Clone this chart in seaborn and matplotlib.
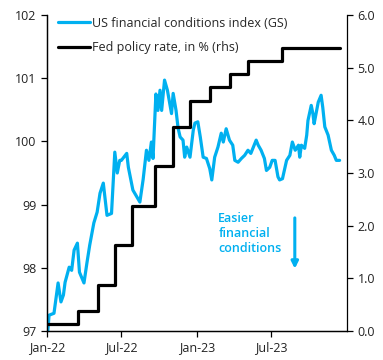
import numpy as np
import pandas as pd
import matplotlib
matplotlib.use("Agg")
import matplotlib.pyplot as plt
import seaborn as sns

# US financial conditions index (GS)
fci_dates = [
    "2022-01-03", "2022-01-06", "2022-01-18", "2022-01-28", "2022-02-04", "2022-02-10",
    "2022-02-14", "2022-02-24", "2022-03-02", "2022-03-08", "2022-03-16", "2022-03-21",
    "2022-04-01", "2022-04-08", "2022-04-15", "2022-04-25", "2022-05-03", "2022-05-10",
    "2022-05-18", "2022-05-27", "2022-06-07", "2022-06-15", "2022-06-21", "2022-06-27",
    "2022-07-01", "2022-07-14", "2022-07-18", "2022-07-29", "2022-08-15", "2022-08-23",
    "2022-08-31", "2022-09-06", "2022-09-12", "2022-09-16", "2022-09-23", "2022-09-28",
    "2022-10-03", "2022-10-07", "2022-10-14", "2022-10-21", "2022-10-31", "2022-11-04",
    "2022-11-11", "2022-11-16", "2022-11-21", "2022-11-28", "2022-12-02", "2022-12-07",
    "2022-12-15", "2022-12-23", "2022-12-27", "2023-01-03", "2023-01-09", "2023-01-16",
    "2023-01-24", "2023-02-01", "2023-02-06", "2023-02-13", "2023-02-21", "2023-03-01",
    "2023-03-06", "2023-03-13", "2023-03-21", "2023-03-29", "2023-04-03", "2023-04-11",
    "2023-04-19", "2023-04-27", "2023-05-05", "2023-05-12", "2023-05-25", "2023-05-30",
    "2023-06-06", "2023-06-14", "2023-06-19", "2023-06-27", "2023-07-03", "2023-07-10",
    "2023-07-17", "2023-07-21", "2023-07-28", "2023-08-07", "2023-08-15", "2023-08-21",
    "2023-08-28", "2023-09-05", "2023-09-08", "2023-09-12", "2023-09-20", "2023-09-25",
    "2023-09-28", "2023-10-06", "2023-10-10", "2023-10-13", "2023-10-23", "2023-10-30",
    "2023-11-03", "2023-11-08", "2023-11-16", "2023-11-24", "2023-12-01", "2023-12-06",
    "2023-12-14",
]
fci_values = [
    97.00, 97.25, 97.28, 97.76, 97.46, 97.57,
    97.77, 98.01, 97.96, 98.28, 98.39, 97.93,
    97.76, 98.07, 98.36, 98.71, 98.88, 99.18,
    99.34, 98.83, 98.86, 99.83, 99.50, 99.70,
    99.70, 99.81, 99.59, 99.23, 99.04, 99.40,
    99.86, 99.70, 99.99, 99.73, 100.75, 100.49,
    100.81, 100.49, 100.97, 100.81, 100.44, 100.76,
    100.49, 100.21, 100.07, 100.02, 99.75, 99.91,
    99.75, 100.18, 100.29, 100.31, 100.07, 99.75,
    99.73, 99.57, 99.39, 99.75, 99.91, 100.13,
    99.99, 100.20, 100.02, 99.94, 99.70, 99.67,
    99.73, 99.78, 99.86, 99.81, 100.02, 99.94,
    99.86, 99.73, 99.54, 99.59, 99.70, 99.70,
    99.44, 99.39, 99.41, 99.70, 99.78, 99.99,
    99.86, 99.94, 99.75, 99.94, 99.89, 100.10,
    100.33, 100.57, 100.44, 100.28, 100.62, 100.73,
    100.54, 100.23, 100.10, 99.86, 99.78, 99.70,
    99.70,
]

# Fed policy rate (midpoint of target range), rhs
fed_dates = [
    "2022-01-03", "2022-03-17", "2022-05-05", "2022-06-16", "2022-07-28", "2022-09-22",
    "2022-11-03", "2022-12-15", "2023-02-02", "2023-03-23", "2023-05-04", "2023-07-27",
    "2023-12-14",
]
fed_rates = [0.125, 0.375, 0.875, 1.625, 2.375, 3.125, 3.875, 4.375, 4.625, 4.875, 5.125, 5.375, 5.375]

tick_dates = ["2022-01-01", "2022-07-01", "2023-01-01", "2023-07-01"]
tick_labels = ["Jan-22", "Jul-22", "Jan-23", "Jul-23"]

blue = "#00B0F0"

fci = pd.DataFrame({"date": pd.to_datetime(fci_dates), "value": fci_values})
fed = pd.DataFrame({"date": pd.to_datetime(fed_dates), "rate": fed_rates})

sns.set_style("ticks")
plt.rcParams["font.family"] = ["Open Sans", "DejaVu Sans"]
plt.rcParams["font.size"] = 9

fig = plt.figure(figsize=(3.83, 3.60), dpi=100)
ax = fig.add_axes([0.1227, 0.0806, 0.7833, 0.8777])
ax2 = ax.twinx()

sns.lineplot(data=fci, x="date", y="value", ax=ax, color=blue, linewidth=2.3,
             label="US financial conditions index (GS)", legend=False)
sns.lineplot(data=fed, x="date", y="rate", ax=ax2, color="black", linewidth=2.3,
             drawstyle="steps-post", label="Fed policy rate, in % (rhs)", legend=False)

ax.set_xlim(pd.Timestamp("2022-01-01"), pd.Timestamp("2024-01-01"))
ax.set_ylim(97, 102)
ax2.set_ylim(0, 6)
ax.set_yticks([97, 98, 99, 100, 101, 102])
ax2.set_yticks(np.arange(0, 7))
ax2.set_yticklabels([f"{v:.1f}" for v in range(7)])
ax.set_xticks(pd.to_datetime(tick_dates))
ax.set_xticklabels(tick_labels)

ax.set_xlabel("")
ax.set_ylabel("")
ax2.set_ylabel("")

for a in (ax, ax2):
    a.spines["top"].set_visible(False)
    for s in a.spines.values():
        s.set_linewidth(0.9)
        s.set_color("black")
    a.tick_params(length=4, width=0.9, color="black", labelsize=9, labelcolor="#222222")
ax.spines["right"].set_visible(False)

h1, l1 = ax.get_legend_handles_labels()
h2, l2 = ax2.get_legend_handles_labels()
ax2.legend(h1 + h2, l1 + l2, loc="upper left", frameon=False, handlelength=2.6,
           handletextpad=0.1, borderaxespad=0.0, bbox_to_anchor=(0.02, 1.01),
           labelspacing=0.9, fontsize=9)

ax2.text(pd.Timestamp("2023-02-22"), 2.25, "Easier\nfinancial\nconditions", color=blue,
         fontsize=9, fontweight="semibold", va="top", ha="left", linespacing=1.2)
ax2.annotate("", xy=(pd.Timestamp("2023-08-27"), 1.13), xytext=(pd.Timestamp("2023-08-27"), 2.2),
             arrowprops=dict(arrowstyle="-|>", color=blue, lw=2.2, mutation_scale=10))

fig.savefig("out.png", dpi=100)
